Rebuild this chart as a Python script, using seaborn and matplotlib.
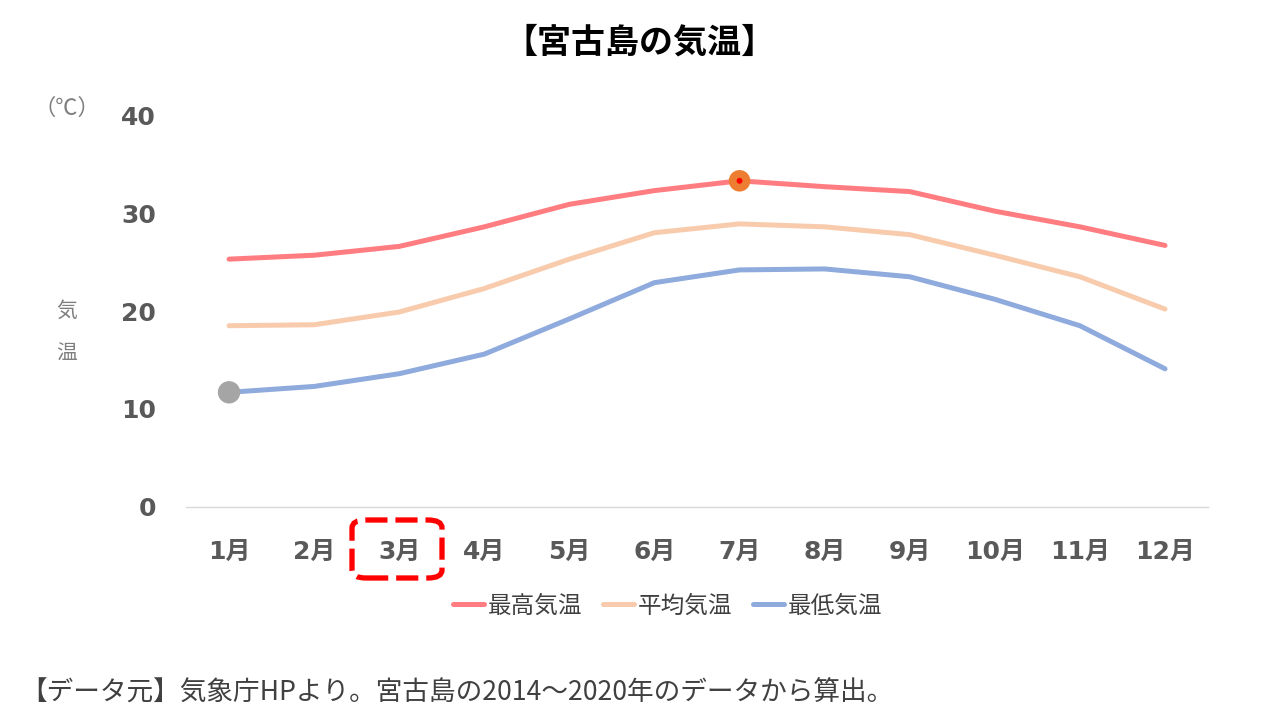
import matplotlib
matplotlib.use("Agg")
import matplotlib.pyplot as plt
from matplotlib.patches import FancyBboxPatch
from matplotlib.lines import Line2D
import seaborn as sns
import pandas as pd

months = ["1月", "2月", "3月", "4月", "5月", "6月", "7月", "8月", "9月", "10月", "11月", "12月"]
max_temp = [25.3, 25.7, 26.6, 28.6, 30.9, 32.3, 33.3, 32.7, 32.2, 30.2, 28.6, 26.7]
avg_temp = [18.5, 18.6, 19.9, 22.3, 25.3, 28.0, 28.9, 28.6, 27.8, 25.7, 23.5, 20.2]
min_temp = [11.7, 12.3, 13.6, 15.6, 19.2, 22.9, 24.2, 24.3, 23.5, 21.2, 18.5, 14.1]
series_names = ["最高気温", "平均気温", "最低気温"]
colors = ["#FF7C80", "#F8CBAD", "#8FAADC"]
y_ticks = [0, 10, 20, 30, 40]

sns.set_theme(style="white")
plt.rcParams["font.family"] = ["Noto Sans CJK JP", "DejaVu Sans"]
TICK_FAMILY = ["DejaVu Sans", "Noto Sans CJK JP"]

df = pd.DataFrame({
    "month": months * 3,
    "temp": max_temp + avg_temp + min_temp,
    "series": [series_names[0]] * 12 + [series_names[1]] * 12 + [series_names[2]] * 12,
})

fig = plt.figure(figsize=(12.8, 7.2), dpi=100)
ax = fig.add_axes([0.1457, 0.296, 0.7977, 0.544])

sns.lineplot(data=df, x="month", y="temp", hue="series", palette=dict(zip(series_names, colors)),
             linewidth=3.6, sort=False, ax=ax, legend=False)
for l in ax.lines:
    l.set_solid_capstyle("round")

# highlighted points
sns.scatterplot(x=[months[0]], y=[min_temp[0]], color="#A5A5A5", s=260, edgecolor="none", ax=ax, zorder=5)
sns.scatterplot(x=[months[6]], y=[max_temp[6]], color="#ED7D31", s=240, edgecolor="none", ax=ax, zorder=5)
sns.scatterplot(x=[months[6]], y=[max_temp[6]], color="#FF0000", s=18, edgecolor="none", ax=ax, zorder=6)

ax.set_xlim(-0.5, 11.5)
ax.set_ylim(0, 40)
ax.set_yticks(y_ticks)
ax.set_yticklabels([str(v) for v in y_ticks])
ax.set_xlabel("")
ax.set_ylabel("")
for s in ["top", "right", "left"]:
    ax.spines[s].set_visible(False)
ax.spines["bottom"].set_color("#D9D9D9")
ax.spines["bottom"].set_linewidth(1.0)
ax.tick_params(axis="both", length=0, colors="#595959")
ax.tick_params(axis="x", pad=24)
ax.tick_params(axis="y", pad=22)
for t in ax.get_xticklabels() + ax.get_yticklabels():
    t.set_fontsize(18)
    t.set_fontweight("bold")
    t.set_color("#595959")
    t.set_family(TICK_FAMILY)

# title and labels
fig.text(0.5, 0.942, "【宮古島の気温】", ha="center", va="center", fontsize=24.5, fontweight="bold", color="#000000")
fig.text(0.052, 0.85, "（℃）", ha="center", va="center", fontsize=16, color="#7F7F7F")
fig.text(0.052, 0.568, "気", ha="center", va="center", fontsize=15, color="#7F7F7F")
fig.text(0.052, 0.508, "温", ha="center", va="center", fontsize=15, color="#7F7F7F")

# legend
handles = [Line2D([0], [0], color=c, lw=3.6, solid_capstyle="round") for c in colors]
leg = fig.legend(handles, series_names, loc="center", bbox_to_anchor=(0.5215, 0.158), ncol=3, frameon=False,
                 fontsize=17, handlelength=1.3, columnspacing=0.9, handletextpad=0.15)
for t in leg.get_texts():
    t.set_color("#404040")

# highlight box around 3月
box = FancyBboxPatch((352 / 1280, 1 - 578 / 720), 90 / 1280, 58 / 720,
                     boxstyle="round,pad=0,rounding_size=0.011", transform=fig.transFigure,
                     fill=False, edgecolor="#FF0000", linewidth=3.8, linestyle=(0, (4.2, 1.5)))
fig.add_artist(box)

# footer
fig.text(0.016, 0.037, "【データ元】気象庁HPより。宮古島の2014～2020年のデータから算出。", ha="left", va="center",
         fontsize=19.2, color="#404040")

fig.savefig("out.png", dpi=100)
